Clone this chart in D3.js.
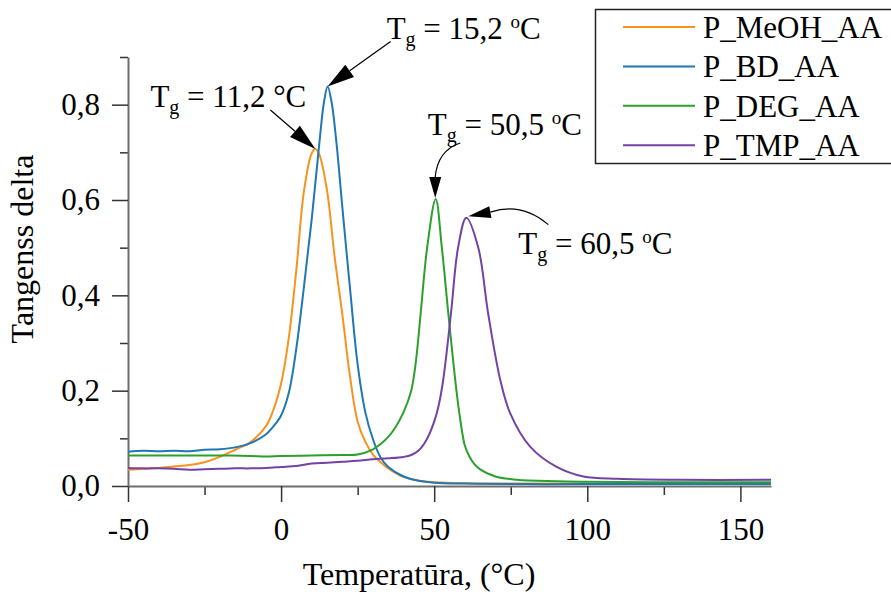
<!DOCTYPE html>
<html>
<head>
<meta charset="utf-8">
<script src="https://cdn.jsdelivr.net/npm/d3@7"></script>
<style>
  body { margin: 0; background: #fff; }
  svg { font-family: "Liberation Serif", "Times New Roman", serif; }
  .domain { stroke: #6e6e6e; stroke-width: 2; }
  .tick line { stroke: #333; stroke-width: 1.5; }
  .tick text { font-size: 31px; fill: #000; font-family: "Liberation Serif", serif; }
</style>
</head>
<body>
<svg id="canvas"></svg>
<script>
// series data (temperature in °C, tan delta)
const meohT = [-50, -45, -40, -35, -30, -25, -20, -15, -10, -5, -2.5, 0, 2.5, 5, 7.5, 10, 11.2, 12.5, 15, 17.5, 20, 22.5, 25, 27.5, 30, 32.5, 35, 40, 45, 50, 60, 80, 100, 120, 140, 160];
const meohV = [0.034, 0.036, 0.038, 0.041, 0.044, 0.050, 0.061, 0.076, 0.092, 0.125, 0.160, 0.215, 0.310, 0.455, 0.620, 0.698, 0.707, 0.695, 0.620, 0.480, 0.360, 0.230, 0.135, 0.093, 0.066, 0.050, 0.037, 0.019, 0.011, 0.008, 0.006, 0.005, 0.005, 0.005, 0.005, 0.005];

const bdT = [-50, -45, -40, -35, -30, -25, -20, -15, -10, -5, -2.5, 0, 2.5, 5, 7.5, 10, 12.5, 14, 15.2, 16.5, 18, 20, 22.5, 25, 27.5, 30, 32.5, 35, 40, 45, 50, 60, 80, 100, 130, 160];
const bdV = [0.072, 0.074, 0.073, 0.074, 0.073, 0.076, 0.077, 0.081, 0.090, 0.108, 0.125, 0.148, 0.195, 0.290, 0.420, 0.560, 0.720, 0.805, 0.838, 0.805, 0.725, 0.585, 0.415, 0.255, 0.155, 0.098, 0.060, 0.040, 0.020, 0.011, 0.007, 0.005, 0.004, 0.004, 0.004, 0.004];

const degT = [-50, -40, -30, -20, -10, -5, 0, 10, 20, 25, 30, 32.5, 35, 37.5, 40, 42.5, 44, 45.6, 47.7, 50.5, 52.5, 54.6, 57, 58.5, 60, 61.5, 63, 65, 70, 77, 90, 100, 120, 160];
const degV = [0.064, 0.064, 0.064, 0.064, 0.063, 0.062, 0.063, 0.064, 0.065, 0.066, 0.077, 0.088, 0.103, 0.125, 0.155, 0.200, 0.260, 0.363, 0.500, 0.602, 0.500, 0.363, 0.215, 0.140, 0.085, 0.062, 0.047, 0.035, 0.020, 0.013, 0.010, 0.009, 0.008, 0.008];

const tmpT = [-50, -45, -40, -35, -30, -25, -20, -15, -10, -5, 0, 5, 10, 15, 20, 25, 30, 35, 40, 42.5, 45, 47.5, 50, 51.5, 53, 55.5, 57.8, 60.5, 64.4, 67.6, 71.6, 74.8, 81.4, 90, 98.7, 110, 130, 160];
const tmpV = [0.038, 0.037, 0.037, 0.036, 0.034, 0.035, 0.036, 0.037, 0.037, 0.038, 0.040, 0.042, 0.047, 0.049, 0.051, 0.053, 0.056, 0.058, 0.061, 0.065, 0.075, 0.097, 0.135, 0.170, 0.225, 0.363, 0.500, 0.563, 0.500, 0.363, 0.222, 0.153, 0.082, 0.040, 0.020, 0.015, 0.013, 0.013];

const seriesNames = ["P_MeOH_AA", "P_BD_AA", "P_DEG_AA", "P_TMP_AA"];
const seriesColors = ["#f7931e", "#1f77b4", "#2ca02c", "#7442a4"];

const xTicks = [-50, 0, 50, 100, 150];
const xMinor = [-25, 25, 75, 125];
const yTicks = [0, 0.2, 0.4, 0.6, 0.8];
const yMinor = [0.1, 0.3, 0.5, 0.7, 0.9];

// glass transition annotations
const tgLabels = ["11,2", "15,2", "50,5", "60,5"];
const tgTemps = [11.2, 15.2, 50.5, 60.5];
const tgPeaks = [0.707, 0.838, 0.602, 0.563];

const settings = {
  width: 891,
  height: 592,
  fontSize: 31,
  titleSize: 32,
};

function graph() {
  const svg = d3.select('#canvas')
    .attr("width", settings.width)
    .attr("height", settings.height);

  const x = d3.scaleLinear().domain([-50, 160]).range([128, 771]);
  const y = d3.scaleLinear().domain([0, 0.9]).range([486, 57]);

  const comma = d => d3.format(".1f")(d).replace(".", ",");

  // minor ticks first, majors on top
  svg.append("g")
    .attr("transform", "translate(0,486)")
    .call(d3.axisBottom(x).tickValues(xMinor).tickSize(9).tickFormat(""))
    .call(g => g.select(".domain").remove());
  svg.append("g")
    .attr("transform", "translate(128,0)")
    .call(d3.axisLeft(y).tickValues(yMinor).tickSize(8).tickFormat(""))
    .call(g => g.select(".domain").remove());

  svg.append("g")
    .attr("transform", "translate(0,486)")
    .call(d3.axisBottom(x).tickValues(xTicks).tickSize(16).tickSizeOuter(0).tickPadding(16)
      .tickFormat(d => String(d)));
  svg.append("g")
    .attr("transform", "translate(128,0)")
    .call(d3.axisLeft(y).tickValues(yTicks).tickSize(16).tickSizeOuter(0).tickPadding(12)
      .tickFormat(comma));

  // axis titles
  svg.append("text")
    .attr("transform", "translate(33,249) rotate(-90)")
    .attr("text-anchor", "middle")
    .attr("font-size", settings.titleSize)
    .text("Tangenss delta");
  svg.append("text")
    .attr("x", 419)
    .attr("y", 585)
    .attr("text-anchor", "middle")
    .attr("font-size", settings.titleSize)
    .text("Temperatūra, (°C)");

  // curves
  const series = [
    { t: meohT, v: meohV },
    { t: bdT, v: bdV },
    { t: degT, v: degV },
    { t: tmpT, v: tmpV },
  ];
  const line = d3.line()
    .x(d => x(d[0]))
    .y(d => y(d[1]))
    .curve(d3.curveCatmullRom.alpha(0.5));

  svg.append("g")
    .selectAll("path")
    .data(series)
    .join("path")
    .attr("d", d => line(d.t.map((t, i) => [t, d.v[i]])))
    .attr("fill", "none")
    .attr("stroke", (d, i) => seriesColors[i])
    .attr("stroke-width", 2);

  // legend
  const legend = svg.append("g");
  legend.append("rect")
    .attr("x", 595.5).attr("y", 9.5)
    .attr("width", 310).attr("height", 154)
    .attr("fill", "#fff")
    .attr("stroke", "#222")
    .attr("stroke-width", 1.5);
  const rows = legend.selectAll("g.row")
    .data(seriesNames)
    .join("g")
    .attr("class", "row")
    .attr("transform", (d, i) => `translate(0,${27 + i * 39.4})`);
  rows.append("line")
    .attr("x1", 623).attr("x2", 695)
    .attr("stroke", (d, i) => seriesColors[i])
    .attr("stroke-width", 2);
  rows.append("text")
    .attr("x", 703)
    .attr("y", 11)
    .attr("font-size", settings.fontSize)
    .text(d => d);

  // annotation layout, offsets relative to the peak in pixels
  const layout = [
    { tx: -165, ty: -42, degSign: true, start: [-45, -39], ctrl: null, base: [-20.4, -17.7], tip: [0, 0], w: 15 },
    { tx: 59, ty: -48, degSign: false, start: [63, -45], ctrl: null, base: [22, -15.7], tip: [0, 0], w: 15 },
    { tx: -8, ty: -64, degSign: false, start: [24.5, -56], ctrl: [2, -48.5], base: [-0.5, -22], tip: [-0.5, -1], w: 12 },
    { tx: 52, ty: 36, degSign: false, start: [82, 7], ctrl: [55, -16], base: [24, -5.5], tip: [2, -1.5], w: 12 },
  ];

  const ann = svg.append("g").attr("class", "annotations");
  tgTemps.forEach((t, i) => {
    const px = x(t), py = y(tgPeaks[i]);
    const L = layout[i];
    const P = p => [px + p[0], py + p[1]];
    const s = P(L.start), b = P(L.base), tp = P(L.tip);

    let d = `M${s[0]},${s[1]}`;
    if (L.ctrl) {
      const c = P(L.ctrl);
      d += ` Q${c[0]},${c[1]} ${b[0]},${b[1]}`;
    } else {
      d += ` L${b[0]},${b[1]}`;
    }
    ann.append("path")
      .attr("d", d)
      .attr("fill", "none")
      .attr("stroke", "#000")
      .attr("stroke-width", 1.2);

    // arrowhead
    const dx = tp[0] - b[0], dy = tp[1] - b[1];
    const len = Math.hypot(dx, dy);
    const nx = -dy / len * L.w / 2, ny = dx / len * L.w / 2;
    ann.append("path")
      .attr("d", `M${tp[0]},${tp[1]} L${b[0] + nx},${b[1] + ny} L${b[0] - nx},${b[1] - ny} Z`)
      .attr("fill", "#000");

    const txt = ann.append("text")
      .attr("x", px + L.tx)
      .attr("y", py + L.ty)
      .attr("font-size", settings.fontSize);
    txt.append("tspan").text("T");
    txt.append("tspan").attr("font-size", 20).attr("dy", 7).text("g");
    if (L.degSign) {
      txt.append("tspan").attr("dy", -7).text(` = ${tgLabels[i]} °C`);
    } else {
      txt.append("tspan").attr("dy", -7).text(` = ${tgLabels[i]} `);
      txt.append("tspan").attr("font-size", 19).attr("dy", -11).text("o");
      txt.append("tspan").attr("dy", 11).text("C");
    }
  });
}

window.addEventListener('DOMContentLoaded', () => {
  graph();
});
</script>
</body>
</html>
